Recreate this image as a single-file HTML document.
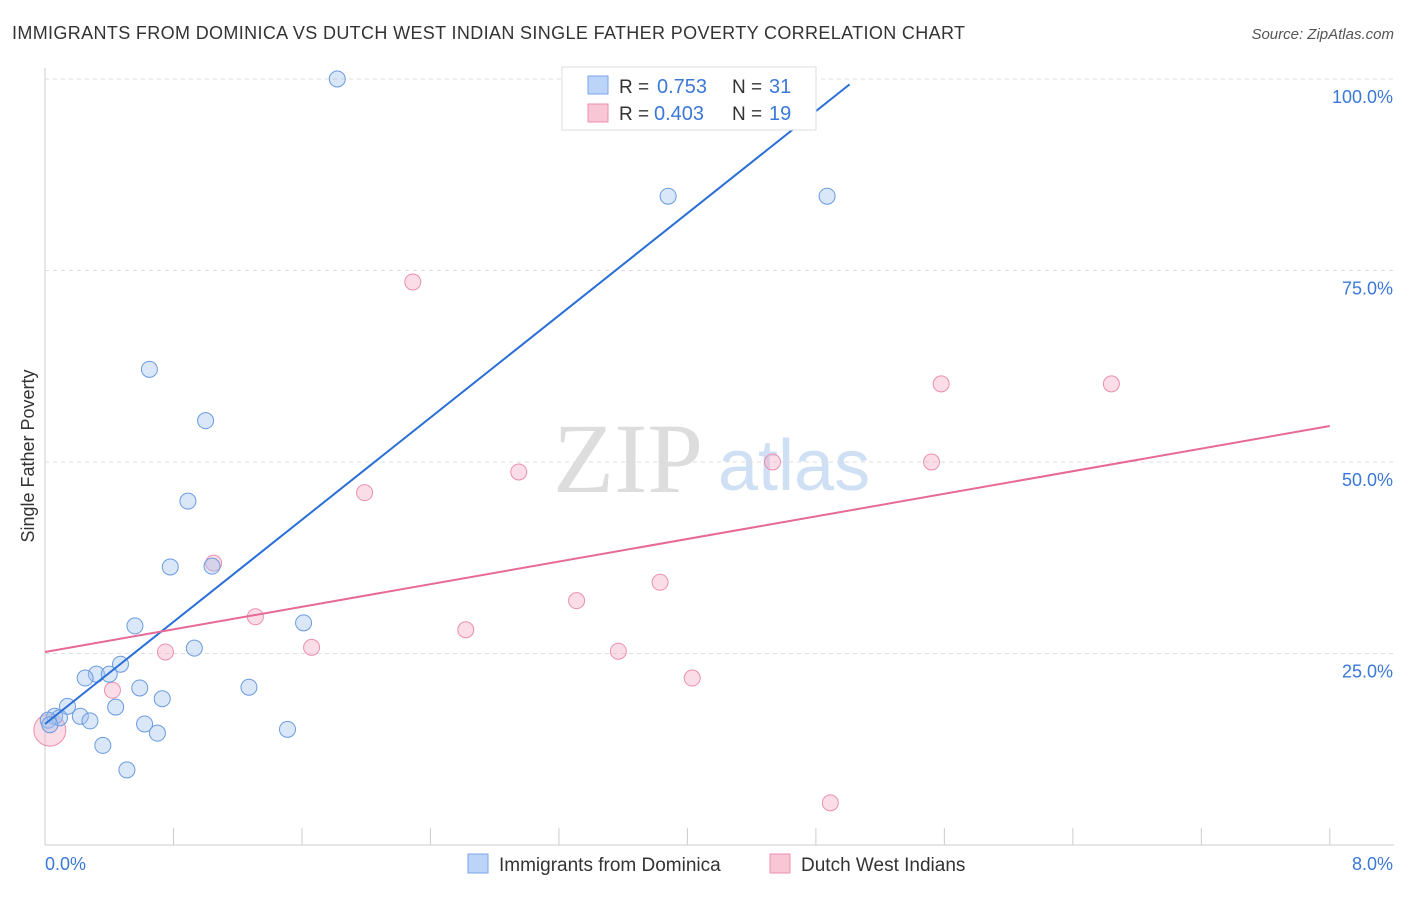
<!DOCTYPE html>
<html><head><meta charset="utf-8"><style>
body{margin:0;background:#fff;font-family:"Liberation Sans",sans-serif}
</style></head><body>
<svg id="c" width="1406" height="892" xmlns="http://www.w3.org/2000/svg">
<text x="12" y="39" font-size="18" fill="#333" textLength="953">IMMIGRANTS FROM DOMINICA VS DUTCH WEST INDIAN SINGLE FATHER POVERTY CORRELATION CHART</text>
<text x="1394" y="39" font-size="15" fill="#555" font-style="italic" text-anchor="end">Source: ZipAtlas.com</text>
<text x="0" y="0" transform="translate(34,456) rotate(-90)" font-size="18" fill="#333" text-anchor="middle">Single Father Poverty</text>
<text x="553" y="492" font-size="100" fill="#ddd" font-family="Liberation Serif">ZIP</text>
<text x="718" y="490" font-size="72" fill="#cfe0f5">atlas</text>
<g id="grid"></g><g id="pts"></g><g id="lines"></g>
<g>
<rect x="562" y="67" width="254" height="63" fill="#fff" stroke="#ddd"/>
<rect x="588" y="76" width="20" height="18" fill="#bcd4f7" stroke="#7aa6e8"/>
<text x="619" y="93" font-size="19" fill="#333">R =</text>
<text x="657" y="93" font-size="20" fill="#3b78d8">0.753</text>
<text x="732" y="93" font-size="19" fill="#333">N =</text>
<text x="769" y="93" font-size="20" fill="#3b78d8">31</text>
<rect x="588" y="104" width="20" height="18" fill="#f9c6d5" stroke="#ec8fae"/>
<text x="619" y="120" font-size="19" fill="#333">R =</text>
<text x="654" y="120" font-size="20" fill="#3b78d8">0.403</text>
<text x="732" y="120" font-size="19" fill="#333">N =</text>
<text x="769" y="120" font-size="20" fill="#3b78d8">19</text>
</g>
<g>
<rect x="468" y="854" width="20" height="19" fill="#bcd4f7" stroke="#7aa6e8"/>
<text x="499" y="871" font-size="19" fill="#333">Immigrants from Dominica</text>
<rect x="770" y="854" width="20" height="19" fill="#f9c6d5" stroke="#ec8fae"/>
<text x="801" y="871" font-size="19" fill="#333">Dutch West Indians</text>
</g>
</svg>
<script>
const xTicks=[0,0.8,1.6,2.4,3.2,4,4.8,5.6,6.4,7.2,8];
const yTicks=[25,50,75,100];
const blueX=[1.82,3.88,4.87,0.65,1.0,0.89,0.78,1.04,0.56,1.61,0.93,0.47,0.32,0.40,0.25,0.59,1.27,0.73,0.44,0.14,0.22,0.28,0.06,0.09,0.02,0.62,0.70,1.51,0.36,0.51,0.03];
const blueY=[100,84.7,84.7,62.1,55.4,44.9,36.3,36.4,28.6,29,25.7,23.6,22.3,22.3,21.8,20.5,20.6,19.1,18,18.1,16.8,16.2,16.8,16.6,16.3,15.8,14.6,15.1,13,9.8,15.7];
const pinkX=[2.29,5.58,6.64,4.53,5.52,2.95,1.99,1.05,3.83,3.31,1.31,2.62,1.66,0.75,3.57,4.03,0.42,4.89,0.03];
const pinkY=[73.5,60.2,60.2,50,50,48.7,46,36.8,34.3,31.9,29.8,28.1,25.8,25.2,25.3,21.8,20.2,5.5,15];
const blueLine=[[0,15.8],[5.01,99.3]];
const pinkLine=[[0,25.2],[8,54.7]];
const sx=v=>45+v*160.6, sy=v=>845-v*7.66;
const NS="http://www.w3.org/2000/svg";
function mk(p,t,a){const e=document.createElementNS(NS,t);for(const k in a)e.setAttribute(k,a[k]);p.appendChild(e);return e;}
const g=document.getElementById('grid');
let ax=mk(g,'line',{x1:45,y1:68,x2:45,y2:845,stroke:'#ccc'});

let bx=mk(g,'line',{x1:45,y1:845,x2:1394,y2:845,stroke:'#ccc'});

xTicks.forEach(t=>{const l=mk(g,'line',{x1:sx(t),y1:828,x2:sx(t),y2:845,stroke:'#ccc'});
});
yTicks.forEach(t=>{const l=mk(g,'line',{x1:45,y1:sy(t),x2:1394,y2:sy(t),stroke:'#ddd','stroke-dasharray':'4,4'});

const tx=mk(g,'text',{x:1393,y:sy(t)+24,'font-size':18,fill:'#3b78d8','text-anchor':'end'});tx.textContent=t.toFixed(1)+'%';
});
[[0,45,'start'],[8,1393,'end']].forEach(([v,x,a])=>{const tx=mk(g,'text',{x:x,y:870,'font-size':18,fill:'#3b78d8','text-anchor':a});tx.textContent=v.toFixed(1)+'%';
});
const p=document.getElementById('pts');
pinkX.forEach((v,i)=>{const c=mk(p,'circle',{cx:sx(v),cy:sy(pinkY[i]),r:i==pinkX.length-1?16:8,fill:'rgba(245,170,195,0.4)',stroke:'#ec8fae'});
});
blueX.forEach((v,i)=>{const c=mk(p,'circle',{cx:sx(v),cy:sy(blueY[i]),r:8,fill:'rgba(160,195,240,0.4)',stroke:'#6a9be0'});
});
const L=document.getElementById('lines');
let b=mk(L,'line',{x1:sx(blueLine[0][0]),y1:sy(blueLine[0][1]),x2:sx(blueLine[1][0]),y2:sy(blueLine[1][1]),stroke:'#2a6fd6','stroke-width':2});

let q=mk(L,'line',{x1:sx(pinkLine[0][0]),y1:sy(pinkLine[0][1]),x2:sx(pinkLine[1][0]),y2:sy(pinkLine[1][1]),stroke:'#e66a95','stroke-width':2});

</script>
</body></html>
